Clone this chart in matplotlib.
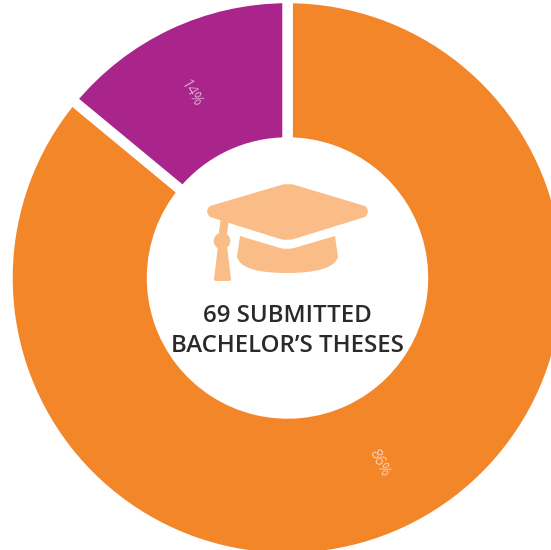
#!/usr/bin/python3

import matplotlib
matplotlib.use('Agg')
import matplotlib.pyplot as plt
from matplotlib.patches import Circle, PathPatch
from matplotlib.path import Path

shares = [86, 14]
colors = ['#F4862A', '#A9258C']
title_lines = ['69 SUBMITTED', "BACHELOR\u2019S THESES"]
label_rotations = [-63, -60]
label_shifts = [(3, -3), (-8, 4)]

M, L, Q, Z = Path.MOVETO, Path.LINETO, Path.CURVE3, Path.CLOSEPOLY
ICON = '#FBBD87'


def shape(*steps):
    verts = [s[1] for s in steps]
    codes = [s[0] for s in steps]
    return PathPatch(Path(verts, codes), facecolor=ICON, edgecolor='none')


fig = plt.figure(figsize=(5.51, 5.50), dpi=100)
ax = fig.add_axes([0, 0, 1, 1])

# y axis runs downwards, so counterclock=True goes clockwise on screen
wedges, texts, autotexts = ax.pie(
    shares, colors=colors, center=(287.5, 278), radius=280, startangle=-90,
    autopct='%.0f%%', pctdistance=0.743,
    wedgeprops=dict(width=144.5, edgecolor='white', linewidth=7.5),
    textprops=dict(family='Open Sans', fontsize=10.5, fontweight='light'))
for t, rot, (dx, dy) in zip(autotexts, label_rotations, label_shifts):
    x, y = t.get_position()
    t.set_position((x + dx, y + dy))
    t.set_rotation(rot)
    t.set_rotation_mode('anchor')
    t.set_color('white')
    t.set_alpha(0.85)

ax.set_xlim(0, 551)
ax.set_ylim(550, 0)
ax.set_aspect('equal')
ax.axis('off')

# mortarboard
ax.add_patch(shape(
    (M, (281, 185)), (Q, (288, 183)), (L, (295, 185)),
    (L, (365, 206)), (Q, (371, 211)), (L, (365, 217)),
    (L, (294, 239)), (Q, (287, 241)), (L, (280, 239)),
    (L, (210, 217)), (Q, (204, 211)), (L, (210, 206)),
    (Z, (281, 185))))
# cap body
ax.add_patch(shape(
    (M, (240, 236)), (L, (280, 248)), (Q, (287, 250)), (L, (294, 248)),
    (L, (335, 236)), (L, (338, 257)), (Q, (333, 273)), (L, (287, 273)),
    (Q, (241, 273)), (L, (237, 257)), (Z, (240, 236))))
# tassel
ax.add_patch(shape(
    (M, (221, 216)), (L, (229, 220)), (L, (226, 240)), (L, (218, 240)),
    (Z, (221, 216))))
ax.add_patch(Circle((222, 241), 8.3, facecolor=ICON, edgecolor='none'))
ax.add_patch(shape(
    (M, (218, 246)), (L, (227, 246)), (L, (231, 279)), (Q, (231, 281)), (L, (229, 281)),
    (L, (216, 281)), (Q, (214, 281)), (L, (214, 279)), (Z, (218, 246))))

for y, line in zip([316, 346.5], title_lines):
    ax.text(287.5, y, line, ha='center', va='center', family='Open Sans',
            fontsize=17.3, fontweight=600, color='#2B2A29')

fig.savefig('out.png', dpi=100)
